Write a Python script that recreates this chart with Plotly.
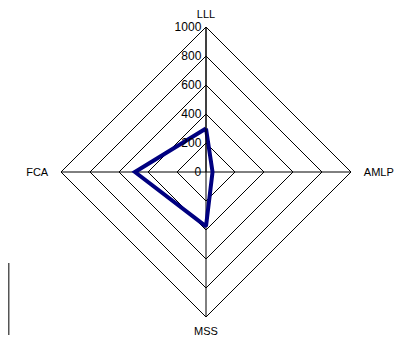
import plotly.graph_objects as go

# categorías y valores
categorias = ['LLL', 'AMLP', 'MSS', 'FCA']
valores = [300, 45, 375, 490]
ticks_radiales = [0, 200, 400, 600, 800, 1000]

# etiquetas con un poco de separación respecto a los vértices
nbsp = '\u00a0'
etiquetas = ['LLL', nbsp * 2 + 'AMLP', 'MSS', 'FCA' + nbsp * 2]

fig = go.Figure()

fig.add_trace(go.Scatterpolar(
    r=valores + valores[:1],
    theta=categorias + categorias[:1],
    mode='lines',
    line=dict(color='#000080', width=4),
    showlegend=False
))

# la página tiene 8px de margen en el body -> figura de 396x330
fig.update_layout(
    width=396, height=330,
    margin=dict(l=53, r=53, t=19, b=21),
    paper_bgcolor='white',
    font=dict(family='Liberation Sans, Arial', size=11, color='black'),
    polar=dict(
        bgcolor='white',
        gridshape='linear',
        radialaxis=dict(
            range=[0, 1000],
            tickvals=ticks_radiales,
            angle=90,
            tickangle=90,
            side='counterclockwise',
            showline=True, linecolor='black', linewidth=1,
            gridcolor='black', gridwidth=1,
            ticks='',
            tickfont=dict(size=12, color='black'),
        ),
        angularaxis=dict(
            categoryarray=categorias,
            tickmode='array',
            tickvals=categorias,
            ticktext=etiquetas,
            rotation=90,
            direction='clockwise',
            showline=True, linecolor='black', linewidth=1,
            gridcolor='black', gridwidth=1,
            ticks='outside', ticklen=4, tickcolor='rgba(0,0,0,0)',
            tickfont=dict(size=11, color='black'),
        ),
    ),
    shapes=[dict(type='line', xref='paper', yref='paper',
                 x0=-0.181, x1=-0.181, y0=0.186, y1=-0.062,
                 line=dict(color='#555555', width=2))],
)

fig.write_html('out.html')
